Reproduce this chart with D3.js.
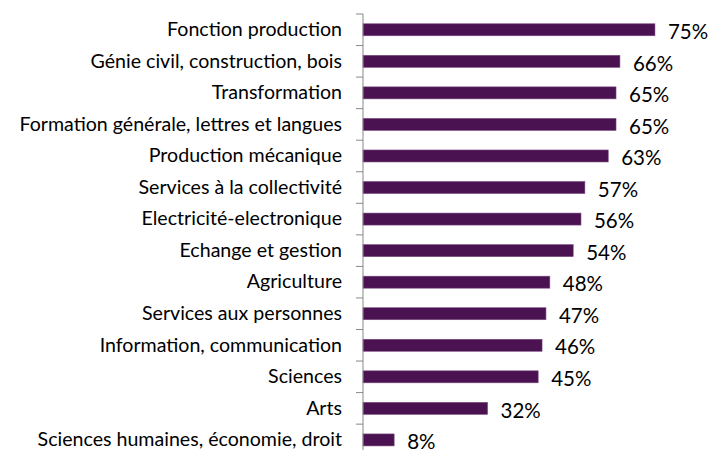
<!DOCTYPE html>
<html>
<head>
<meta charset="utf-8">
<script src="https://cdn.jsdelivr.net/npm/d3@7"></script>
<style>
  body { margin: 0; background: #fff; }
  svg { display: block; font-family: Lato, "Open Sans", sans-serif; }
</style>
</head>
<body>
<div id="chart"></div>
<script>
const categories = [
  'Fonction production',
  'Génie civil, construction, bois',
  'Transformation',
  'Formation générale, lettres et langues',
  'Production mécanique',
  'Services à la collectivité',
  'Electricité-electronique',
  'Echange et gestion',
  'Agriculture',
  'Services aux personnes',
  'Information, communication',
  'Sciences',
  'Arts',
  'Sciences humaines, économie, droit'
];
const shares = [75, 66, 65, 65, 63, 57, 56, 54, 48, 47, 46, 45, 32, 8];

const width = 726;
const height = 450;
const axisX = 363;

const data = categories.map((c, i) => ({ name: c, value: shares[i] }));

const svg = d3.select('#chart')
  .append('svg')
  .attr('width', width)
  .attr('height', height);

const x = d3.scaleLinear()
  .domain([0, 80])
  .range([axisX, axisX + 311.4]);

const y = d3.scaleBand()
  .domain(categories)
  .range([14, 14 + 14 * 31.55])
  .paddingInner(0.62)
  .paddingOuter(0.31);

// bars
svg.append('g')
  .selectAll('rect')
  .data(data)
  .join('rect')
  .attr('x', x(0))
  .attr('y', d => y(d.name))
  .attr('width', d => x(d.value) - x(0))
  .attr('height', y.bandwidth())
  .attr('fill', '#4a1250')
  .attr('stroke', '#7a4a80')
  .attr('stroke-width', 0.6);

// value labels
svg.append('g')
  .selectAll('text')
  .data(data)
  .join('text')
  .attr('x', d => x(d.value) + 13)
  .attr('y', d => y(d.name) + y.bandwidth() / 2 + 2)
  .attr('dy', '0.35em')
  .attr('font-size', 20.5)
  .attr('fill', '#000')
  .text(d => d.value + '%');

// category axis, ticks at band edges
const axis = svg.append('g')
  .attr('transform', `translate(${axisX},0)`)
  .call(d3.axisLeft(y).tickSize(0).tickPadding(21));

axis.select('.domain')
  .attr('stroke', '#888')
  .attr('d', `M0,${y.range()[0]}V${y.range()[1]}`);

axis.selectAll('text')
  .attr('font-size', 19.6)
  .attr('font-family', 'Lato, "Open Sans", sans-serif')
  .attr('fill', '#000');

const edges = d3.range(categories.length + 1).map(i => y.range()[0] + i * y.step());
axis.selectAll('.edge')
  .data(edges)
  .join('line')
  .attr('class', 'edge')
  .attr('x1', -7)
  .attr('x2', 0)
  .attr('y1', d => d)
  .attr('y2', d => d)
  .attr('stroke', '#888');
</script>
</body>
</html>
